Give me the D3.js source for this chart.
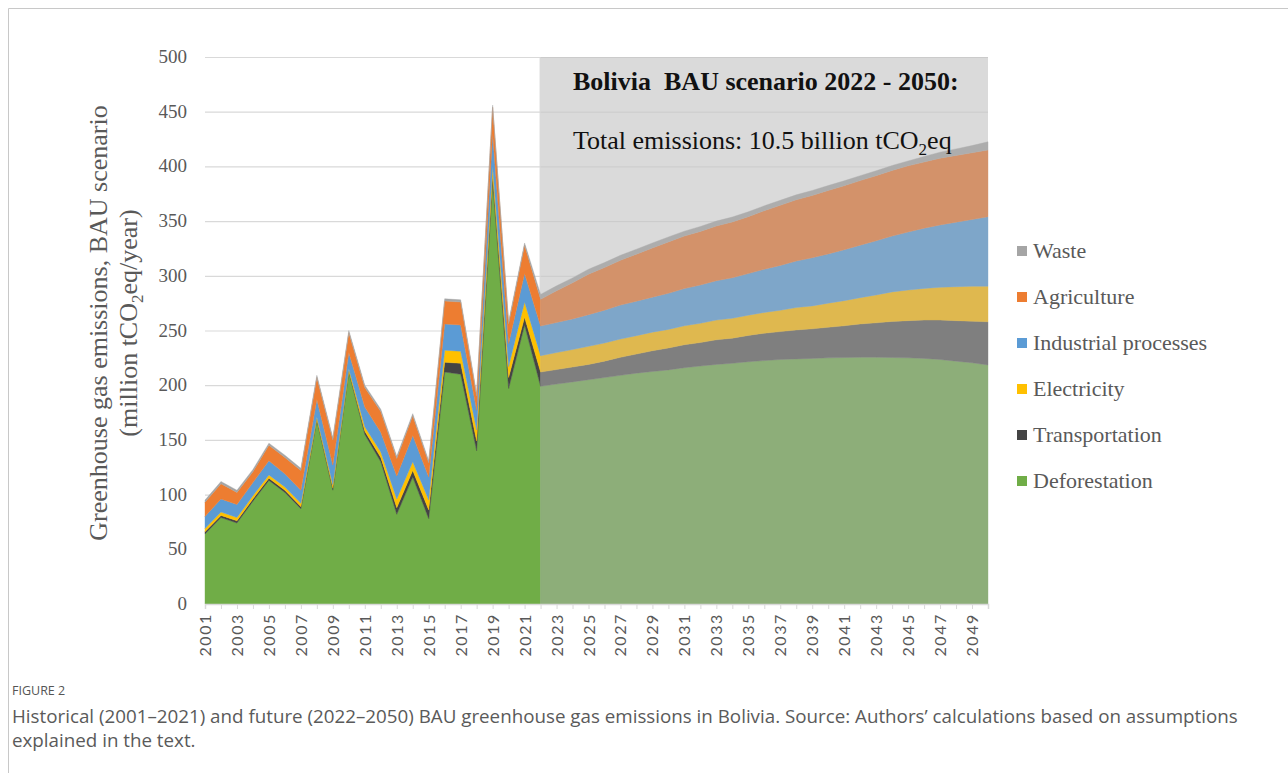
<!DOCTYPE html>
<html>
<head>
<meta charset="utf-8">
<script src="https://cdn.jsdelivr.net/npm/d3@7"></script>
<style>
  body { margin: 0; background: #fff; }
  svg { display: block; }
</style>
</head>
<body>
<svg id="chart" width="1288" height="773"></svg>
<script>
// ---- data (million tCO2eq / year) ----
const years = d3.range(2001, 2051);
const histEnd = 2022; // last year of the historical series (shared point)

const deforestation = [64, 79, 74, 94, 113, 102, 87, 168, 104, 212, 155, 130, 82, 116, 78, 212, 210, 140, 386, 197, 255,
  199, 201, 203, 205, 207, 209, 211, 212.5, 214, 216, 217.5, 219, 220, 221.5, 222.5, 223.5, 224, 224.5, 225, 225.3, 225.5, 225.5, 225.3, 225, 224.5, 223.5, 222, 220.5, 218.5];
const transportation = [2, 2, 2, 2, 2, 2, 2, 1, 2, 1, 3, 4, 6, 6, 8, 9, 10, 9, 6, 10, 7,
  13, 13.3, 13.6, 14, 15, 16.5, 17.5, 19, 20, 21, 21.5, 22.5, 23, 24, 25, 25.5, 26.5, 27, 28, 29, 30.5, 31.5, 33, 34, 35, 36, 37, 38, 39.5];
const electricity = [3, 3, 3, 3, 3, 3, 3, 2, 3, 2, 4, 5, 8, 8, 9, 11, 11, 10, 8, 10, 14,
  15, 15.5, 16, 16.5, 16.6, 16.7, 16.8, 17, 17, 17.3, 17.6, 18, 18.2, 18.5, 19, 19.5, 20.5, 21, 22, 23, 24, 25.5, 27, 28, 29, 30, 31, 32, 32.5];
const industrial = [11, 12, 12, 12, 13, 12, 12, 16, 18, 15, 18, 18, 21, 24, 21, 24, 24, 18, 30, 21, 26,
  27, 27.5, 28, 29, 30, 31, 31.5, 32, 33, 34, 35, 36, 37, 38, 39.5, 41, 42.5, 44, 45, 46.5, 48, 49.5, 51, 53, 55, 57, 59, 61, 63.5];
const agriculture = [13, 14, 11, 10, 14, 15, 18, 20, 23, 18, 18, 19, 16, 18, 13, 21, 21, 13, 24, 18, 26,
  24.5, 29, 33, 37, 39, 41, 43, 45, 47, 48, 49, 50, 51, 52, 53.5, 55, 56, 57, 58, 58.5, 59, 59.5, 60, 60.5, 60.5, 61, 61, 61, 61];
const waste = [2, 2, 2, 2, 2, 2, 2, 2, 2, 2, 2, 2, 2, 2, 2, 2, 2, 2, 2, 2, 2,
  4.5, 4.5, 4.5, 4.5, 4.5, 4.5, 4.5, 4.5, 4.5, 4.5, 4.5, 4.5, 4.5, 4.5, 4.5, 4.5, 4.5, 4.5, 4.5, 4.5, 4.5, 4.5, 4.5, 4.5, 5, 5.5, 6, 6.5, 7.5];

const sectors = ['Deforestation', 'Transportation', 'Electricity', 'Industrial processes', 'Agriculture', 'Waste'];
const seriesValues = [deforestation, transportation, electricity, industrial, agriculture, waste];
const legendOrder = ['Waste', 'Agriculture', 'Industrial processes', 'Electricity', 'Transportation', 'Deforestation'];
const yTicks = [0, 50, 100, 150, 200, 250, 300, 350, 400, 450, 500];

const histColors = ['#70ad47', '#444444', '#ffc000', '#5b9bd5', '#ed7d31', '#a5a5a5'];
const futColors  = ['#8dae79', '#7f7f7f', '#dfb84f', '#7ea6c9', '#d3926a', '#adadad'];

// ---- build rows ----
const rows = years.map((yr, i) => {
  const r = { year: yr };
  sectors.forEach((s, k) => r[s] = seriesValues[k][i]);
  return r;
});

const svg = d3.select('#chart');
const width = 1288, height = 773;
const margin = { top: 57, left: 205 };
const plotRight = 988, plotBottom = 604;
const serif = '"Liberation Serif", "Times New Roman", serif';

const x = d3.scaleLinear().domain([2001, 2050]).range([margin.left, plotRight]);
const y = d3.scaleLinear().domain([0, 500]).range([plotBottom, margin.top]);

// figure frame
svg.append('path')
  .attr('d', `M8.5,${height} V8.5 H${width}`)
  .attr('fill', 'none').attr('stroke', '#c8c8c8');

// gridlines
svg.append('g')
  .selectAll('line')
  .data(yTicks.filter(d => d > 0))
  .join('line')
    .attr('x1', margin.left).attr('x2', plotRight)
    .attr('y1', d => y(d) + 0.5).attr('y2', d => y(d) + 0.5)
    .attr('stroke', '#d9d9d9').attr('stroke-width', 1.2);

// scenario box
svg.append('rect')
  .attr('x', x(histEnd) - 1).attr('y', y(500))
  .attr('width', plotRight - x(histEnd) + 1).attr('height', y(0) - y(500))
  .attr('fill', '#dadada');

svg.append('g')
  .selectAll('line')
  .data(yTicks.filter(d => d > 0))
  .join('line')
    .attr('x1', x(histEnd)).attr('x2', plotRight)
    .attr('y1', d => y(d) + 0.5).attr('y2', d => y(d) + 0.5)
    .attr('stroke', '#cbcbcb').attr('stroke-width', 1);

const stack = d3.stack().keys(sectors);
const area = d3.area()
  .x(d => x(d.data.year))
  .y0(d => y(d[0]))
  .y1(d => y(d[1]));

const histRows = rows.filter(r => r.year <= histEnd);
const futRows = rows.filter(r => r.year >= histEnd);

svg.append('g')
  .selectAll('path')
  .data(stack(histRows))
  .join('path')
    .attr('d', area)
    .attr('fill', (d, i) => histColors[i])
    .attr('stroke', (d, i) => histColors[i]).attr('stroke-width', 0.4);

svg.append('g')
  .selectAll('path')
  .data(stack(futRows))
  .join('path')
    .attr('d', area)
    .attr('fill', (d, i) => futColors[i])
    .attr('stroke', (d, i) => futColors[i]).attr('stroke-width', 0.4);

// x axis
const xAxis = svg.append('g')
  .attr('transform', `translate(0,${plotBottom})`)
  .call(d3.axisBottom(x).tickValues(years).tickSize(5).tickFormat(''));
xAxis.select('.domain').attr('stroke', '#d9d9d9').attr('stroke-width', 1.5);
xAxis.selectAll('.tick line').attr('stroke', '#d9d9d9');

svg.append('g')
  .selectAll('text')
  .data(years.filter(d => d % 2 === 1))
  .join('text')
    .attr('transform', d => `translate(${x(d) + 6},${plotBottom + 9}) rotate(-90)`)
    .attr('text-anchor', 'end')
    .attr('font-family', 'Lato, "Open Sans", sans-serif')
    .attr('font-size', 16)
    .attr('letter-spacing', 1.6)
    .attr('fill', '#595959')
    .text(d => d);

// y axis labels
svg.append('g')
  .selectAll('text')
  .data(yTicks)
  .join('text')
    .attr('x', 187).attr('y', d => y(d) + 6)
    .attr('text-anchor', 'end')
    .attr('font-family', serif)
    .attr('font-size', 19)
    .attr('fill', '#595959')
    .text(d => d);

const yTitle = svg.append('text')
  .attr('transform', 'translate(107,323) rotate(-90)')
  .attr('text-anchor', 'middle')
  .attr('font-family', serif)
  .attr('font-size', 26)
  .attr('fill', '#595959');
yTitle.append('tspan').attr('x', 0).attr('dy', 0).text('Greenhouse gas emissions, BAU scenario');
const l2 = yTitle.append('tspan').attr('x', 0).attr('dy', 30);
l2.append('tspan').text('(million tCO');
l2.append('tspan').attr('font-size', 17).attr('dy', 6).text('2');
l2.append('tspan').attr('dy', -6).text('eq/year)');

// scenario annotation
svg.append('text')
  .attr('x', 573).attr('y', 90)
  .attr('font-family', serif)
  .attr('font-size', 26).attr('font-weight', 'bold')
  .attr('fill', '#111')
  .attr('xml:space', 'preserve')
  .text('Bolivia  BAU scenario 2022 - 2050:');

const total = svg.append('text')
  .attr('x', 573).attr('y', 149)
  .attr('font-family', serif)
  .attr('font-size', 26)
  .attr('fill', '#111');
total.append('tspan').text('Total emissions: 10.5 billion tCO');
total.append('tspan').attr('font-size', 17).attr('dy', 6).text('2');
total.append('tspan').attr('dy', -6).text('eq');

// legend
const legend = svg.append('g').attr('transform', 'translate(1017,251)');
legend.selectAll('rect')
  .data(legendOrder)
  .join('rect')
    .attr('x', 0).attr('y', (d, i) => i * 46 - 5)
    .attr('width', 10).attr('height', 10)
    .attr('fill', d => histColors[sectors.indexOf(d)]);
legend.selectAll('text')
  .data(legendOrder)
  .join('text')
    .attr('x', 16).attr('y', (d, i) => i * 46 + 7)
    .attr('font-family', serif)
    .attr('font-size', 22)
    .attr('fill', '#595959')
    .text(d => d);

// caption
svg.append('text')
  .attr('x', 12).attr('y', 695)
  .attr('font-family', '"Open Sans", sans-serif')
  .attr('font-size', 12.5)
  .attr('fill', '#555')
  .text('FIGURE 2');

const capLines = [
  'Historical (2001\u20132021) and future (2022\u20132050) BAU greenhouse gas emissions in Bolivia. Source: Authors\u2019 calculations based on assumptions',
  'explained in the text.'
];
const cap = svg.append('g')
  .selectAll('text')
  .data(capLines)
  .join('text')
    .attr('x', 12).attr('y', (d, i) => 723 + i * 24)
    .attr('font-family', '"Open Sans", sans-serif')
    .attr('font-size', 16)
    .attr('fill', '#5a5a5a')
    .text(d => d);

// fit the long caption line to the printed width
const first = cap.nodes()[0];
const fs = 16 * 1226 / first.getComputedTextLength();
cap.attr('font-size', fs);
</script>
</body>
</html>
